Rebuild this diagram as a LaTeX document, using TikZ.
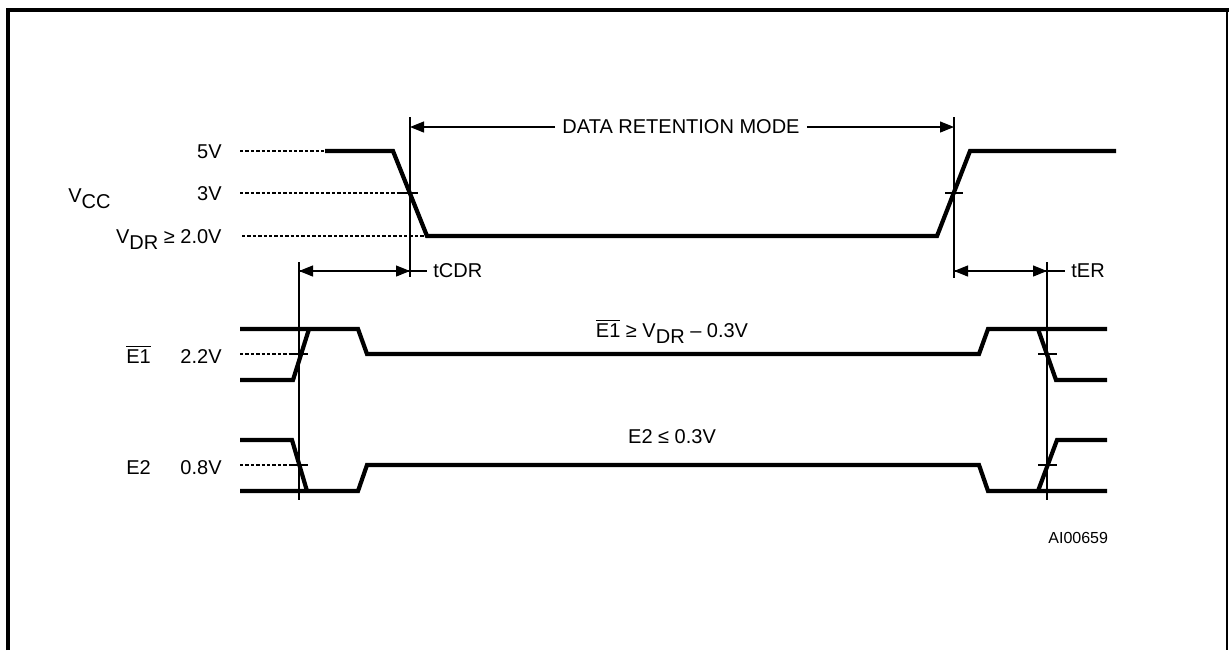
\documentclass[tikz,border=0pt]{standalone}
\usepackage{fontspec}
\setmainfont{Liberation Sans}
\usetikzlibrary{arrows.meta,positioning}
\newcommand{\lowsub}[1]{\raisebox{-3.2pt}{#1}}

\begin{document}
\begin{tikzpicture}[x=0.5pt,y=-0.5pt,
  every node/.style={font=\fontsize{10}{11}\selectfont,inner sep=0pt},
  wave/.style={line width=2.1pt,line join=miter},
  levelline/.style={line width=0.7pt,dash pattern=on 1.7pt off 1pt},
  crossmark/.style={line width=0.7pt},
  refline/.style={line width=1pt},
  dimline/.style={line width=0.6pt},
  tip/.style={-{Triangle[length=7pt,width=5.5pt]}}]
\useasboundingbox (0,0) rectangle (1229,650);
% frame
\draw[line width=1.6pt] (8,650) -- (8,10) -- (1229,10);
\draw[line width=0.6pt] (1227,10) -- (1227,650);
% reference lines
\coordinate (A) at (410,117);
\coordinate (A2) at (410,277);
\coordinate (B) at (954,117);
\coordinate (B2) at (954,278);
\coordinate (C) at (299,262);
\coordinate (C2) at (299,500);
\coordinate (D) at (1047,262);
\coordinate (D2) at (1047,500);
\draw[refline] (A)--(A2);
\draw[refline] (B)--(B2);
\draw[refline] (C)--(C2);
\draw[refline] (D)--(D2);
% VCC
\node[anchor=base west] (vcc) at (68,202) {V\lowsub{CC}};
\node[anchor=base east] (v5) at (222,158) {5V};
\node[anchor=base east] (v3) at (222,200) {3V};
\node[anchor=base east] (vdr) at (222,243) {V\lowsub{DR} ≥ 2.0V};
\draw[levelline] (240,151)--(325,151);
\draw[levelline] (240,193)--(400,193);
\draw[levelline] (242,236)--(427,236);
\draw[crossmark] (400,193)--(418,193);
\draw[crossmark] (945,193)--(963,193);
\draw[wave] (325,151) -- (393,151) -- (427,236) -- (937,236) -- (970,151) -- (1116,151);
% data retention mode
\node[inner sep=3.5pt] (mode) at (681,127) {DATA RETENTION MODE};
\draw[dimline,tip] (mode.west) -- (mode.west -| A);
\draw[dimline,tip] (mode.east) -- (mode.east -| B);
% tCDR and tER
\node[anchor=west,inner sep=3pt] (tcdr) at (427,271) {tCDR};
\draw[dimline,tip] (tcdr.west -| A) -- (tcdr.west -| C);
\draw[dimline,tip] (tcdr.west -| C) -- (tcdr.west -| A);
\draw[dimline] (tcdr.west -| A) -- (tcdr.west);
\node[anchor=west,inner sep=3pt] (ter) at (1065,271) {tER};
\draw[dimline,tip] (ter.west -| D) -- (ter.west -| B);
\draw[dimline,tip] (ter.west -| B) -- (ter.west -| D);
\draw[dimline] (ter.west -| D) -- (ter.west);
% E1
\node[anchor=base west] (e1) at (126,363) {$\overline{\mbox{E1}}$};
\node[anchor=base east] (v22) at (222,363) {2.2V};
\draw[levelline] (240,354)--(299,354);
\draw[crossmark] (291,354)--(308,354);
\draw[crossmark] (1038,354)--(1057,354);
\draw[wave] (240,329) -- (358,329) -- (367,354) -- (979,354) -- (988,329) -- (1107,329);
\draw[wave] (240,380) -- (293,380) -- (309,329);
\draw[wave] (1038,329) -- (1056,380) -- (1107,380);
\node[anchor=base] (e1cond) at (672,337) {$\overline{\mbox{E1}}$ ≥ V\lowsub{DR} – 0.3V};
% E2
\node[anchor=base west] (e2) at (126,474) {E2};
\node[anchor=base east] (v08) at (222,474) {0.8V};
\draw[levelline] (240,465)--(299,465);
\draw[crossmark] (291,465)--(308,465);
\draw[crossmark] (1038,465)--(1057,465);
\draw[wave] (240,440) -- (292,440) -- (307,491);
\draw[wave] (240,491) -- (358,491) -- (367,465) -- (979,465) -- (988,491) -- (1107,491);
\draw[wave] (1038,491) -- (1057,440) -- (1107,440);
\node[anchor=base] (e2cond) at (672,443) {E2 ≤ 0.3V};
% figure id
\node[anchor=base west,font=\fontsize{8}{9}\selectfont] (fig) at (1048,543) {AI00659};
\end{tikzpicture}
\end{document}
